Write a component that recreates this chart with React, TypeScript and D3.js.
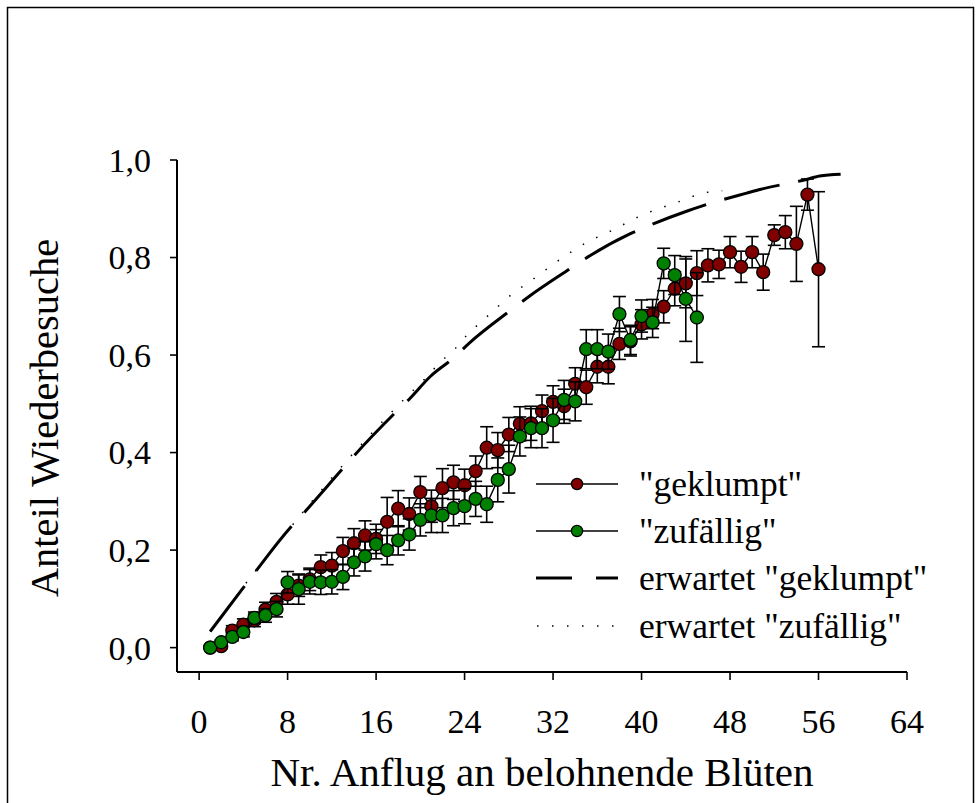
import React from 'react';
import * as d3 from 'd3';

// Anteil Wiederbesuche, "geklumpt" (flight no. 1..56)
const geklumpt = [
  0.0, 0.003, 0.035, 0.047, 0.056, 0.078, 0.094, 0.109, 0.127, 0.14,
  0.165, 0.168, 0.198, 0.214, 0.23, 0.223, 0.258, 0.285, 0.274, 0.319,
  0.29, 0.327, 0.339, 0.333, 0.362, 0.41, 0.405, 0.437, 0.459, 0.46,
  0.485, 0.504, 0.495, 0.541, 0.534, 0.576, 0.576, 0.623, 0.628, 0.663,
  0.684, 0.699, 0.736, 0.747, 0.768, 0.784, 0.786, 0.811, 0.781, 0.811,
  0.77, 0.846, 0.852, 0.828, 0.929, 0.776,
];
const geklumptErr = [
  0, 0.005, 0.01, 0.012, 0.013, 0.015, 0.017, 0.02, 0.022, 0.023,
  0.025, 0.027, 0.028, 0.03, 0.03, 0.03, 0.05, 0.037, 0.033, 0.032,
  0.033, 0.04, 0.035, 0.033, 0.031, 0.043, 0.036, 0.035, 0.035, 0.035,
  0.033, 0.033, 0.035, 0.033, 0.035, 0.033, 0.035, 0.032, 0.03, 0.03,
  0.03, 0.033, 0.035, 0.05, 0.046, 0.034, 0.029, 0.032, 0.032, 0.032,
  0.037, 0.021, 0.034, 0.077, 0.032, 0.159,
];

// "zufällig" (flight no. 1..45)
const zufaellig = [
  0.0, 0.011, 0.022, 0.032, 0.061, 0.066, 0.079, 0.134, 0.12, 0.135,
  0.134, 0.135, 0.145, 0.175, 0.187, 0.212, 0.2, 0.22, 0.232, 0.262,
  0.271, 0.271, 0.286, 0.29, 0.305, 0.294, 0.344, 0.366, 0.433, 0.45,
  0.45, 0.466, 0.508, 0.505, 0.612, 0.612, 0.607, 0.684, 0.631, 0.68,
  0.667, 0.788, 0.764, 0.715, 0.677,
];
const zufaelligErr = [
  0, 0.005, 0.008, 0.01, 0.012, 0.014, 0.016, 0.022, 0.031, 0.025,
  0.025, 0.025, 0.026, 0.028, 0.03, 0.03, 0.03, 0.03, 0.032, 0.033,
  0.035, 0.035, 0.036, 0.036, 0.036, 0.037, 0.045, 0.049, 0.04, 0.04,
  0.04, 0.045, 0.04, 0.04, 0.04, 0.04, 0.036, 0.036, 0.03, 0.033,
  0.031, 0.031, 0.04, 0.087, 0.092,
];

// expected curves as [x, value]
const erwartetGeklumpt: [number, number][] = [
  [1, 0.033], [4, 0.123], [5, 0.153], [8.2, 0.245], [9.3, 0.272],
  [12.75, 0.361], [13.95, 0.392], [17.7, 0.481], [19.1, 0.512], [20.9, 0.556],
  [23, 0.594], [24.4, 0.624], [28.3, 0.694], [29.7, 0.718], [33.6, 0.778],
  [35, 0.799], [38.9, 0.848], [40.3, 0.862], [44.2, 0.896], [45.5, 0.906],
  [49.5, 0.932], [50.8, 0.94], [54.7, 0.959], [56.1, 0.967], [58, 0.971],
];
const erwartetZufaellig: [number, number][] = [
  [1, 0.033], [4, 0.125], [8.2, 0.245], [12.8, 0.369], [15.2, 0.43],
  [17.7, 0.49], [19.1, 0.522], [20.4, 0.551], [21.7, 0.583], [23.1, 0.612],
  [24.3, 0.643], [25.7, 0.672], [27.1, 0.701], [28.4, 0.727], [29.8, 0.749],
  [31.1, 0.771], [32.5, 0.794], [33.8, 0.814], [35.2, 0.833], [36.6, 0.848],
  [37.9, 0.862], [39.2, 0.878], [40.6, 0.892], [41.9, 0.903], [43.2, 0.913],
  [44.6, 0.925], [46, 0.934], [47.3, 0.937],
];

const xTicks = [0, 8, 16, 24, 32, 40, 48, 56, 64];
const yTicks = [0, 0.2, 0.4, 0.6, 0.8, 1.0];
const legendLabels = ['"geklumpt"', '"zufällig"', 'erwartet "geklumpt"', 'erwartet "zufällig"'];

const RED = '#800000';
const GREEN = '#008000';
const FONT = '"Liberation Serif", "Times New Roman", serif';

const x = d3.scaleLinear().domain([-2, 64]).range([177, 907]);
const y = d3.scaleLinear().domain([-0.05, 1]).range([672, 160]);
const fmt = (v: number) => d3.format('.1f')(v).replace('.', ',');

const Series = ({ values, errs, color }: { values: number[]; errs: number[]; color: string }) => {
  const pts = values.map((v, i) => [i + 1, v] as [number, number]);
  const line = d3.line<[number, number]>().x((d) => x(d[0])).y((d) => y(d[1]));
  return (
    <g>
      {pts.map((d, i) => {
        const e = errs[i];
        if (!e) return null;
        const cx = x(d[0]);
        return (
          <g key={i} stroke="#000" strokeWidth={1.6}>
            <line x1={cx} x2={cx} y1={y(d[1] - e)} y2={y(d[1] + e)} />
            <line x1={cx - 6.5} x2={cx + 6.5} y1={y(d[1] + e)} y2={y(d[1] + e)} />
            <line x1={cx - 6.5} x2={cx + 6.5} y1={y(d[1] - e)} y2={y(d[1] - e)} />
          </g>
        );
      })}
      <path d={line(pts) || ''} fill="none" stroke="#000" strokeWidth={1.4} />
      {pts.map((d, i) => (
        <circle key={i} cx={x(d[0])} cy={y(d[1])} r={6.5} fill={color} stroke="#000" strokeWidth={1.3} />
      ))}
    </g>
  );
};

const App = () => {
  const curve = d3.line<[number, number]>()
    .x((d) => x(d[0]))
    .y((d) => y(d[1]))
    .curve(d3.curveMonotoneX);

  const legendY = [484, 531, 578, 626];

  return (
    <svg width={976} height={803} style={{ position: 'absolute', left: 0, top: 0, background: '#fff' }}
      fontFamily={FONT}>
      <rect x={7.5} y={7.5} width={966} height={805} fill="none" stroke="#000" strokeWidth={1.5} />

      {/* axes */}
      <line x1={x(-2)} x2={x(-2)} y1={y(1)} y2={y(-0.05)} stroke="#000" strokeWidth={2} />
      <line x1={x(-2)} x2={x(64)} y1={y(-0.05)} y2={y(-0.05)} stroke="#000" strokeWidth={2} />
      {yTicks.map((t) => (
        <g key={t}>
          <line x1={x(-2) - 7} x2={x(-2)} y1={y(t)} y2={y(t)} stroke="#000" strokeWidth={1.6} />
          <text x={151} y={y(t)} dy="0.35em" textAnchor="end" fontSize={34}>{fmt(t)}</text>
        </g>
      ))}
      {xTicks.map((t) => (
        <g key={t}>
          <line x1={x(t)} x2={x(t)} y1={y(-0.05)} y2={y(-0.05) + 8} stroke="#000" strokeWidth={1.6} />
          <text x={x(t)} y={733} textAnchor="middle" fontSize={34}>{t}</text>
        </g>
      ))}
      <text x={(x(-2) + x(64)) / 2} y={786} textAnchor="middle" fontSize={41}>
        Nr. Anflug an belohnende Blüten
      </text>
      <text transform={`translate(58, ${(y(1) + y(-0.05)) / 2 + 2}) rotate(-90)`} textAnchor="middle" fontSize={40.5}>
        Anteil Wiederbesuche
      </text>

      {/* expected curves */}
      <path d={curve(erwartetZufaellig) || ''} fill="none" stroke="#000" strokeWidth={1.5} strokeDasharray="1.5,13.5" />
      <path d={curve(erwartetGeklumpt) || ''} fill="none" stroke="#000" strokeWidth={3} strokeDasharray="57,19" />

      <Series values={geklumpt} errs={geklumptErr} color={RED} />
      <Series values={zufaellig} errs={zufaelligErr} color={GREEN} />

      {/* legend */}
      <g>
        {[RED, GREEN].map((c, i) => (
          <g key={c}>
            <line x1={536} x2={618} y1={legendY[i]} y2={legendY[i]} stroke="#000" strokeWidth={1.4} />
            <circle cx={577} cy={legendY[i]} r={5.6} fill={c} stroke="#000" strokeWidth={1.3} />
          </g>
        ))}
        <line x1={536} x2={618} y1={legendY[2]} y2={legendY[2]} stroke="#000" strokeWidth={3} strokeDasharray="36,24" />
        <line x1={537} x2={618} y1={legendY[3]} y2={legendY[3]} stroke="#000" strokeWidth={1.5} strokeDasharray="1.5,13.5" />
        {legendLabels.map((l, i) => (
          <text key={l} x={639} y={legendY[i] + 12} fontSize={35.5}>{l}</text>
        ))}
      </g>
    </svg>
  );
};

export default App;
